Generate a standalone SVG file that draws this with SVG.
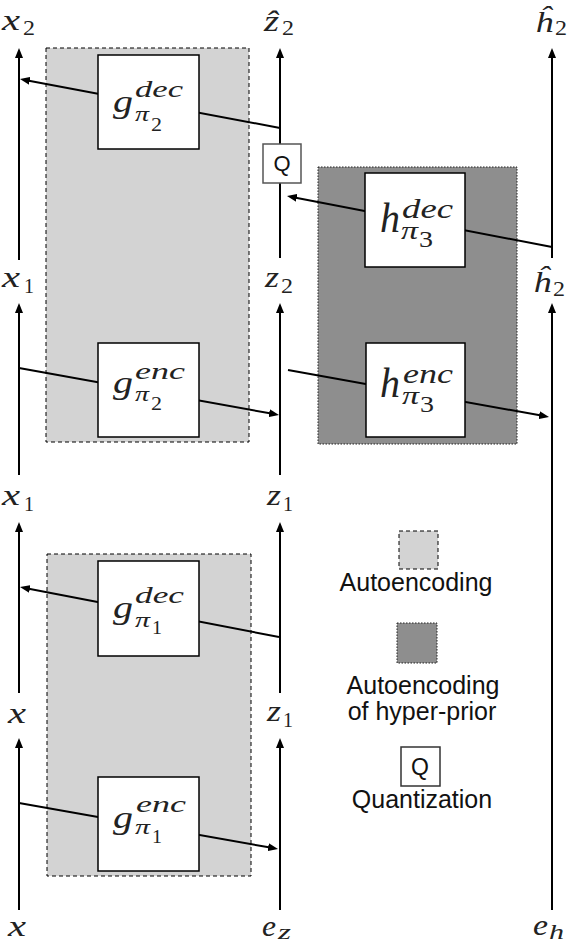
<svg xmlns="http://www.w3.org/2000/svg" width="568" height="945" viewBox="0 0 568 945">
<defs>
<style>
.light{fill:#d3d3d3;stroke:#000;stroke-width:1;stroke-dasharray:4 3}
.dark{fill:#8e8e8e;stroke:#222;stroke-width:1;stroke-dasharray:1.5 1.5}
.box{fill:#fff;stroke:#000;stroke-width:1.5}
.qbox{fill:#fff;stroke:#555;stroke-width:1.5}
.ax{stroke:#000;stroke-width:2;fill:none}
.ar{stroke:#000;stroke-width:2;fill:none;marker-end:url(#ah)}
.m{font-family:"Liberation Serif","DejaVu Serif",serif;font-style:italic;fill:#222}
.r{font-family:"Liberation Serif","DejaVu Serif",serif;font-style:normal;fill:#222}
.s{font-family:"Liberation Sans",Arial,sans-serif;fill:#111}
</style>
<marker id="ah" markerWidth="11" markerHeight="8" refX="5" refY="4" orient="auto" markerUnits="userSpaceOnUse"><path d="M0,0 L10,4 L0,8 z" fill="#000"/></marker>
</defs>

<g id="regions">
<rect class="light" x="46" y="48" width="203" height="394"/>
<rect class="light" x="47" y="554" width="204" height="322"/>
<rect class="dark" x="318" y="167" width="199" height="277"/>
</g>

<g id="connectors">
<line class="ar" x1="19" y1="260" x2="19" y2="53"/>
<line class="ar" x1="19" y1="475" x2="19" y2="308"/>
<line class="ar" x1="19" y1="693" x2="19" y2="527"/>
<line class="ar" x1="19" y1="910" x2="19" y2="743"/>
<line class="ar" x1="280" y1="144" x2="280" y2="53"/>
<line class="ax" x1="280" y1="183" x2="280" y2="258"/>
<line class="ar" x1="280" y1="475" x2="280" y2="308"/>
<line class="ar" x1="280" y1="693" x2="280" y2="527"/>
<line class="ar" x1="280" y1="910" x2="280" y2="743"/>
<line class="ar" x1="552" y1="258" x2="552" y2="53"/>
<line class="ar" x1="552" y1="910" x2="552" y2="308"/>
<line class="ar" x1="280" y1="128" x2="24.9" y2="79.9"/>
<line class="ar" x1="552" y1="247" x2="291.9" y2="196.9"/>
<line class="ar" x1="19" y1="368" x2="274.1" y2="414.1"/>
<line class="ar" x1="288" y1="370" x2="544.1" y2="416.1"/>
<line class="ar" x1="279" y1="637" x2="24.9" y2="588"/>
<line class="ar" x1="19" y1="803" x2="273.1" y2="848.1"/>
</g>

<g id="g-dec-pi2">
<rect class="box" x="98" y="55" width="101" height="94"/>
<text class="m" x="113" y="112" font-size="32" textLength="20" lengthAdjust="spacingAndGlyphs">g</text>
<text class="m" x="135" y="97" font-size="23" textLength="48" lengthAdjust="spacingAndGlyphs">dec</text>
<text class="m" x="135" y="121" font-size="22" textLength="14" lengthAdjust="spacingAndGlyphs">π</text>
<text class="r" x="151" y="131" font-size="19" textLength="11" lengthAdjust="spacingAndGlyphs">2</text>
</g>

<g id="g-enc-pi2">
<rect class="box" x="98" y="343" width="101" height="94"/>
<text class="m" x="113" y="393" font-size="32" textLength="20" lengthAdjust="spacingAndGlyphs">g</text>
<text class="m" x="135" y="379" font-size="23" textLength="50" lengthAdjust="spacingAndGlyphs">enc</text>
<text class="m" x="135" y="401" font-size="22" textLength="14" lengthAdjust="spacingAndGlyphs">π</text>
<text class="r" x="151" y="410" font-size="19" textLength="11" lengthAdjust="spacingAndGlyphs">2</text>
</g>

<g id="g-dec-pi1">
<rect class="box" x="98" y="561" width="101" height="95"/>
<text class="m" x="113" y="618" font-size="32" textLength="20" lengthAdjust="spacingAndGlyphs">g</text>
<text class="m" x="135" y="603" font-size="23" textLength="49" lengthAdjust="spacingAndGlyphs">dec</text>
<text class="m" x="135" y="627" font-size="22" textLength="15" lengthAdjust="spacingAndGlyphs">π</text>
<text class="r" x="152" y="634" font-size="19" textLength="10" lengthAdjust="spacingAndGlyphs">1</text>
</g>

<g id="g-enc-pi1">
<rect class="box" x="98" y="777" width="101" height="94"/>
<text class="m" x="113" y="828" font-size="32" textLength="20" lengthAdjust="spacingAndGlyphs">g</text>
<text class="m" x="136" y="812" font-size="23" textLength="50" lengthAdjust="spacingAndGlyphs">enc</text>
<text class="m" x="135" y="834" font-size="22" textLength="15" lengthAdjust="spacingAndGlyphs">π</text>
<text class="r" x="152" y="843" font-size="19" textLength="10" lengthAdjust="spacingAndGlyphs">1</text>
</g>

<g id="h-dec-pi3">
<rect class="box" x="365" y="173" width="100" height="94"/>
<text class="m" x="380" y="232" font-size="42" textLength="20" lengthAdjust="spacingAndGlyphs">h</text>
<text class="m" x="402" y="218" font-size="27" textLength="51" lengthAdjust="spacingAndGlyphs">dec</text>
<text class="m" x="401" y="239" font-size="25" textLength="17" lengthAdjust="spacingAndGlyphs">π</text>
<text class="r" x="419" y="247" font-size="24" textLength="14" lengthAdjust="spacingAndGlyphs">3</text>
</g>

<g id="h-enc-pi3">
<rect class="box" x="366" y="343" width="99" height="94"/>
<text class="m" x="380" y="397" font-size="42" textLength="20" lengthAdjust="spacingAndGlyphs">h</text>
<text class="m" x="403" y="383" font-size="27" textLength="50" lengthAdjust="spacingAndGlyphs">enc</text>
<text class="m" x="402" y="404" font-size="25" textLength="17" lengthAdjust="spacingAndGlyphs">π</text>
<text class="r" x="420" y="412" font-size="24" textLength="14" lengthAdjust="spacingAndGlyphs">3</text>
</g>

<g id="q">
<rect class="qbox" x="263" y="144" width="38" height="39"/>
<text class="s" x="282" y="171" font-size="22" text-anchor="middle">Q</text>
</g>

<g id="labels">
<text class="m" x="2" y="30" font-size="30" textLength="18" lengthAdjust="spacingAndGlyphs">x</text>
<text class="r" x="23" y="35" font-size="22" textLength="12" lengthAdjust="spacingAndGlyphs">2</text>
<text class="m" x="264" y="31" font-size="30" textLength="15" lengthAdjust="spacingAndGlyphs">ẑ</text>
<text class="r" x="282" y="35" font-size="22" textLength="12" lengthAdjust="spacingAndGlyphs">2</text>
<text class="m" x="535" y="32" font-size="30" textLength="18" lengthAdjust="spacingAndGlyphs">ĥ</text>
<text class="r" x="555" y="35" font-size="22" textLength="12" lengthAdjust="spacingAndGlyphs">2</text>

<text class="m" x="2" y="287" font-size="30" textLength="18" lengthAdjust="spacingAndGlyphs">x</text>
<text class="r" x="24" y="293" font-size="22" textLength="10" lengthAdjust="spacingAndGlyphs">1</text>
<text class="m" x="265" y="287" font-size="30" textLength="14" lengthAdjust="spacingAndGlyphs">z</text>
<text class="r" x="281" y="293" font-size="22" textLength="12" lengthAdjust="spacingAndGlyphs">2</text>
<text class="m" x="533" y="292" font-size="30" textLength="18" lengthAdjust="spacingAndGlyphs">ĥ</text>
<text class="r" x="553" y="296" font-size="22" textLength="12" lengthAdjust="spacingAndGlyphs">2</text>

<text class="m" x="2" y="505" font-size="30" textLength="18" lengthAdjust="spacingAndGlyphs">x</text>
<text class="r" x="24" y="511" font-size="22" textLength="10" lengthAdjust="spacingAndGlyphs">1</text>
<text class="m" x="267" y="505" font-size="30" textLength="14" lengthAdjust="spacingAndGlyphs">z</text>
<text class="r" x="283" y="511" font-size="22" textLength="10" lengthAdjust="spacingAndGlyphs">1</text>

<text class="m" x="8" y="723" font-size="30" textLength="18" lengthAdjust="spacingAndGlyphs">x</text>
<text class="m" x="267" y="721" font-size="30" textLength="14" lengthAdjust="spacingAndGlyphs">z</text>
<text class="r" x="283" y="727" font-size="22" textLength="10" lengthAdjust="spacingAndGlyphs">1</text>

<text class="m" x="8" y="936" font-size="30" textLength="18" lengthAdjust="spacingAndGlyphs">x</text>
<text class="m" x="262" y="936" font-size="30" textLength="14" lengthAdjust="spacingAndGlyphs">e</text>
<text class="m" x="278" y="939" font-size="20" textLength="13" lengthAdjust="spacingAndGlyphs">z</text>
<text class="m" x="533" y="935" font-size="30" textLength="15" lengthAdjust="spacingAndGlyphs">e</text>
<text class="m" x="549" y="939" font-size="20" textLength="15" lengthAdjust="spacingAndGlyphs">h</text>
</g>

<g id="legend">
<rect class="light" x="399" y="531" width="39" height="38"/>
<text class="s" x="416" y="591" font-size="25" text-anchor="middle">Autoencoding</text>
<rect class="dark" x="397" y="623" width="40" height="40"/>
<text class="s" x="423" y="694" font-size="25" text-anchor="middle">Autoencoding</text>
<text class="s" x="422" y="720" font-size="25" text-anchor="middle">of hyper-prior</text>
<rect class="qbox" x="401" y="747" width="39" height="39" style="stroke:#333"/>
<text class="s" x="420" y="775" font-size="23" text-anchor="middle">Q</text>
<text class="s" x="422" y="808" font-size="25" text-anchor="middle">Quantization</text>
</g>
</svg>
